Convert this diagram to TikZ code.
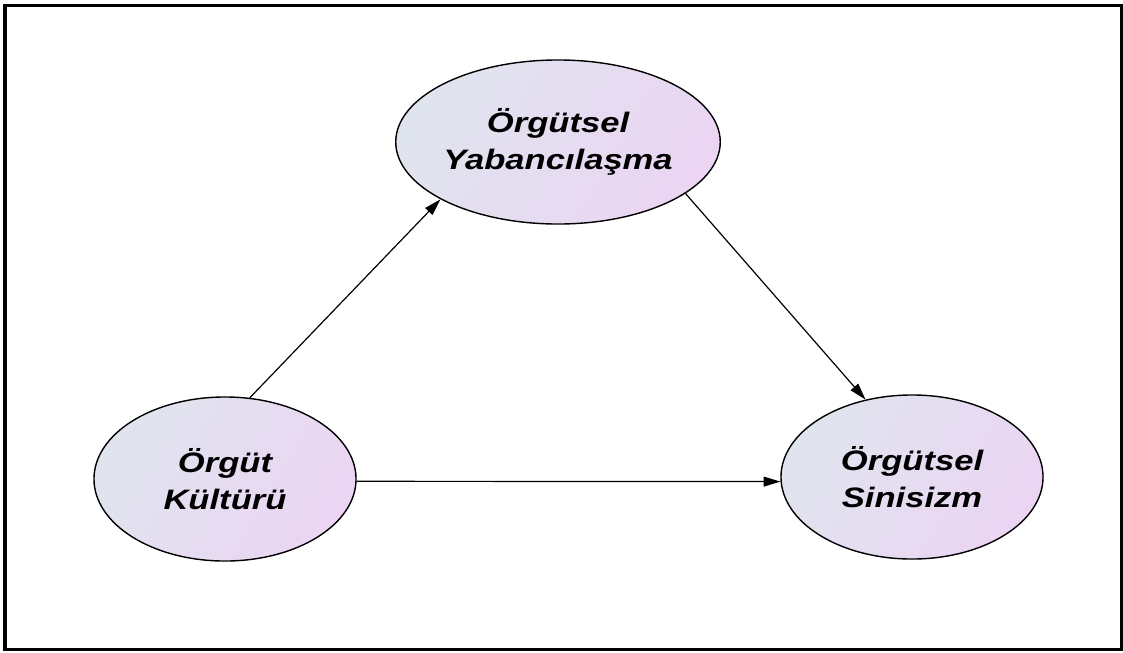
\documentclass[tikz,border=0pt]{standalone}
\usepackage{fontspec}
\newfontfamily\ellfont[FakeStretch=1.23]{Liberation Sans}
\usepackage{tikz}
\usetikzlibrary{shapes.geometric, arrows.meta}
\usepackage{xcolor}
\definecolor{ellLeft}{HTML}{E0E4EE}
\definecolor{ellRight}{HTML}{EBD5F3}
\tikzset{
  font=\ellfont\bfseries\itshape\fontsize{20}{26}\selectfont,
  concept/.style={draw, ellipse, line width=1pt, left color=ellLeft, right color=ellRight, shading angle=60, minimum width=6.55cm, minimum height=4.1cm, inner sep=0pt, align=center},
  link/.style={line width=0.85pt, -{Triangle[length=12pt, width=7pt]}}
}

\begin{document}
\begin{tikzpicture}[x=0.025cm, y=-0.025cm]
    \useasboundingbox (0,0) rectangle (1123,652);
    \draw[line width=2.2pt] (5,5.5) rectangle (1121.5,649.5);

    \node[concept] (kultur) at (225,479) {Örgüt\\Kültürü};
    \node[concept] (yabanci) at (558,142) {Örgütsel\\Yabancılaşma};
    \node[concept] (sinizm) at (912,477) {Örgütsel\\Sinisizm};

    \draw[link] (kultur.73) -- (yabanci.206);
    \draw[link] (yabanci.338) -- (sinizm.121);
    \draw[link] (kultur.-1) -- (sinizm.182);
  \end{tikzpicture}
\end{document}
